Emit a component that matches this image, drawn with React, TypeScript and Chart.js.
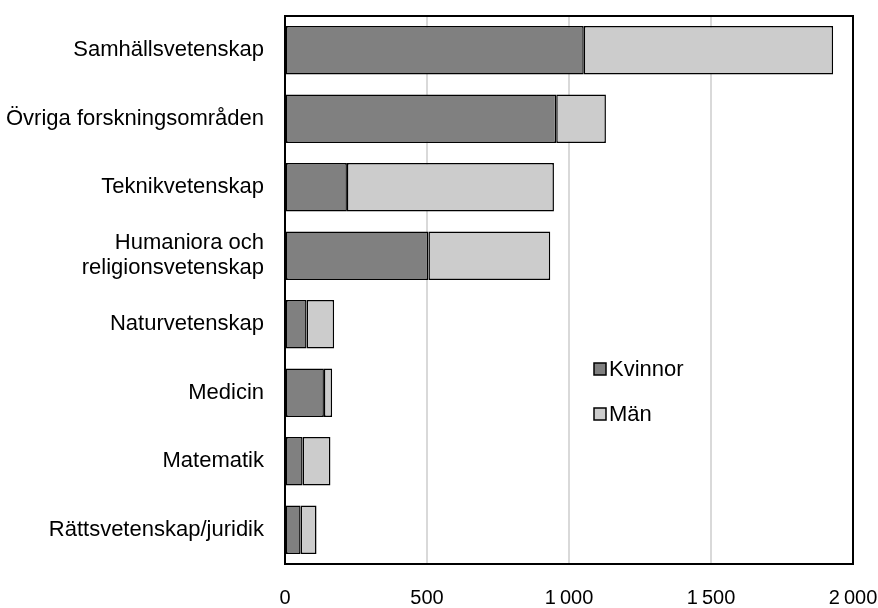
import React, { useEffect, useRef } from "react";
import { Chart, registerables } from "chart.js";

Chart.register(...registerables);

const categories: (string | string[])[] = [
  "Samhällsvetenskap",
  "Övriga forskningsområden",
  "Teknikvetenskap",
  ["Humaniora och", "religionsvetenskap"],
  "Naturvetenskap",
  "Medicin",
  "Matematik",
  "Rättsvetenskap/juridik",
];
const kvinnor = [1052, 955, 218, 505, 76, 137, 62, 55];
const man = [878, 175, 729, 429, 97, 29, 98, 56];
const xTicks = [0, 500, 1000, 1500, 2000];

const fmt = (v: number) => String(v).replace(/\B(?=(\d{3})+(?!\d))/g, "\u2009");

const frameAndLegend = {
  id: "frameAndLegend",
  afterDraw(chart: any) {
    const { ctx, chartArea } = chart;
    ctx.save();
    ctx.strokeStyle = "#000";
    ctx.lineWidth = 2;
    ctx.strokeRect(chartArea.left, chartArea.top, chartArea.right - chartArea.left, chartArea.bottom - chartArea.top);
    const lx = chartArea.left + 309;
    const rows = [369, 414];
    chart.data.datasets.forEach((ds: any, i: number) => {
      const cy = rows[i];
      ctx.fillStyle = ds.backgroundColor;
      ctx.fillRect(lx, cy - 6, 12, 12);
      ctx.lineWidth = 1.5;
      ctx.strokeStyle = "#000";
      ctx.strokeRect(lx, cy - 6, 12, 12);
      ctx.fillStyle = "#000";
      ctx.font = "22px 'Liberation Sans', Arial, sans-serif";
      ctx.textBaseline = "middle";
      ctx.textAlign = "left";
      ctx.fillText(ds.label, lx + 15, cy + 1);
    });
    ctx.restore();
  },
};

export default function App() {
  const ref = useRef<HTMLCanvasElement>(null);
  useEffect(() => {
    document.body.style.margin = "0";
    const chart = new Chart(ref.current!, {
      type: "bar",
      data: {
        labels: categories,
        datasets: [
          {
            label: "Kvinnor",
            data: kvinnor,
            backgroundColor: "#808080",
            borderColor: "#000",
            borderWidth: 1.5,
            borderSkipped: false,
            categoryPercentage: 1,
            barPercentage: 0.71,
          },
          {
            label: "Män",
            data: man,
            backgroundColor: "#cccccc",
            borderColor: "#000",
            borderWidth: 1.5,
            borderSkipped: false,
            categoryPercentage: 1,
            barPercentage: 0.71,
          },
        ],
      },
      options: {
        indexAxis: "y",
        animation: false,
        responsive: false,
        maintainAspectRatio: false,
        layout: { padding: { top: 16, right: 25, left: 0, bottom: 0 } },
        plugins: { legend: { display: false }, tooltip: { enabled: false } },
        scales: {
          x: {
            stacked: true,
            min: 0,
            max: 2000,
            afterBuildTicks: (s: any) => {
              s.ticks = xTicks.map((v) => ({ value: v }));
            },
            afterFit: (s: any) => {
              s.height = 44;
              s.paddingLeft = 0;
              s.paddingRight = 0;
            },
            grid: {
              drawTicks: false,
              color: (c: any) => (c.tick && (c.tick.value === 0 || c.tick.value === 2000) ? "rgba(0,0,0,0)" : "#d9d9d9"),
              lineWidth: 2,
            },
            border: { display: false },
            ticks: {
              padding: 22,
              color: "#000",
              maxRotation: 0,
              font: { family: "'Liberation Sans Narrow', 'Arial Narrow', 'Liberation Sans', sans-serif", size: 20 },
              callback: (v: any) => fmt(Number(v)),
            },
          },
          y: {
            stacked: true,
            afterFit: (s: any) => {
              s.width = 285;
              s.paddingTop = 0;
              s.paddingBottom = 0;
            },
            grid: { display: false, drawTicks: false },
            border: { display: false },
            ticks: {
              padding: 21,
              color: "#000",
              font: { family: "'Liberation Sans', Arial, sans-serif", size: 22, lineHeight: 1.15 },
            },
          },
        },
      },
      plugins: [frameAndLegend],
    });
    return () => chart.destroy();
  }, []);
  return (
    <div style={{ width: 878, height: 608 }}>
      <canvas ref={ref} width={878} height={608} style={{ display: "block" }} />
    </div>
  );
}
